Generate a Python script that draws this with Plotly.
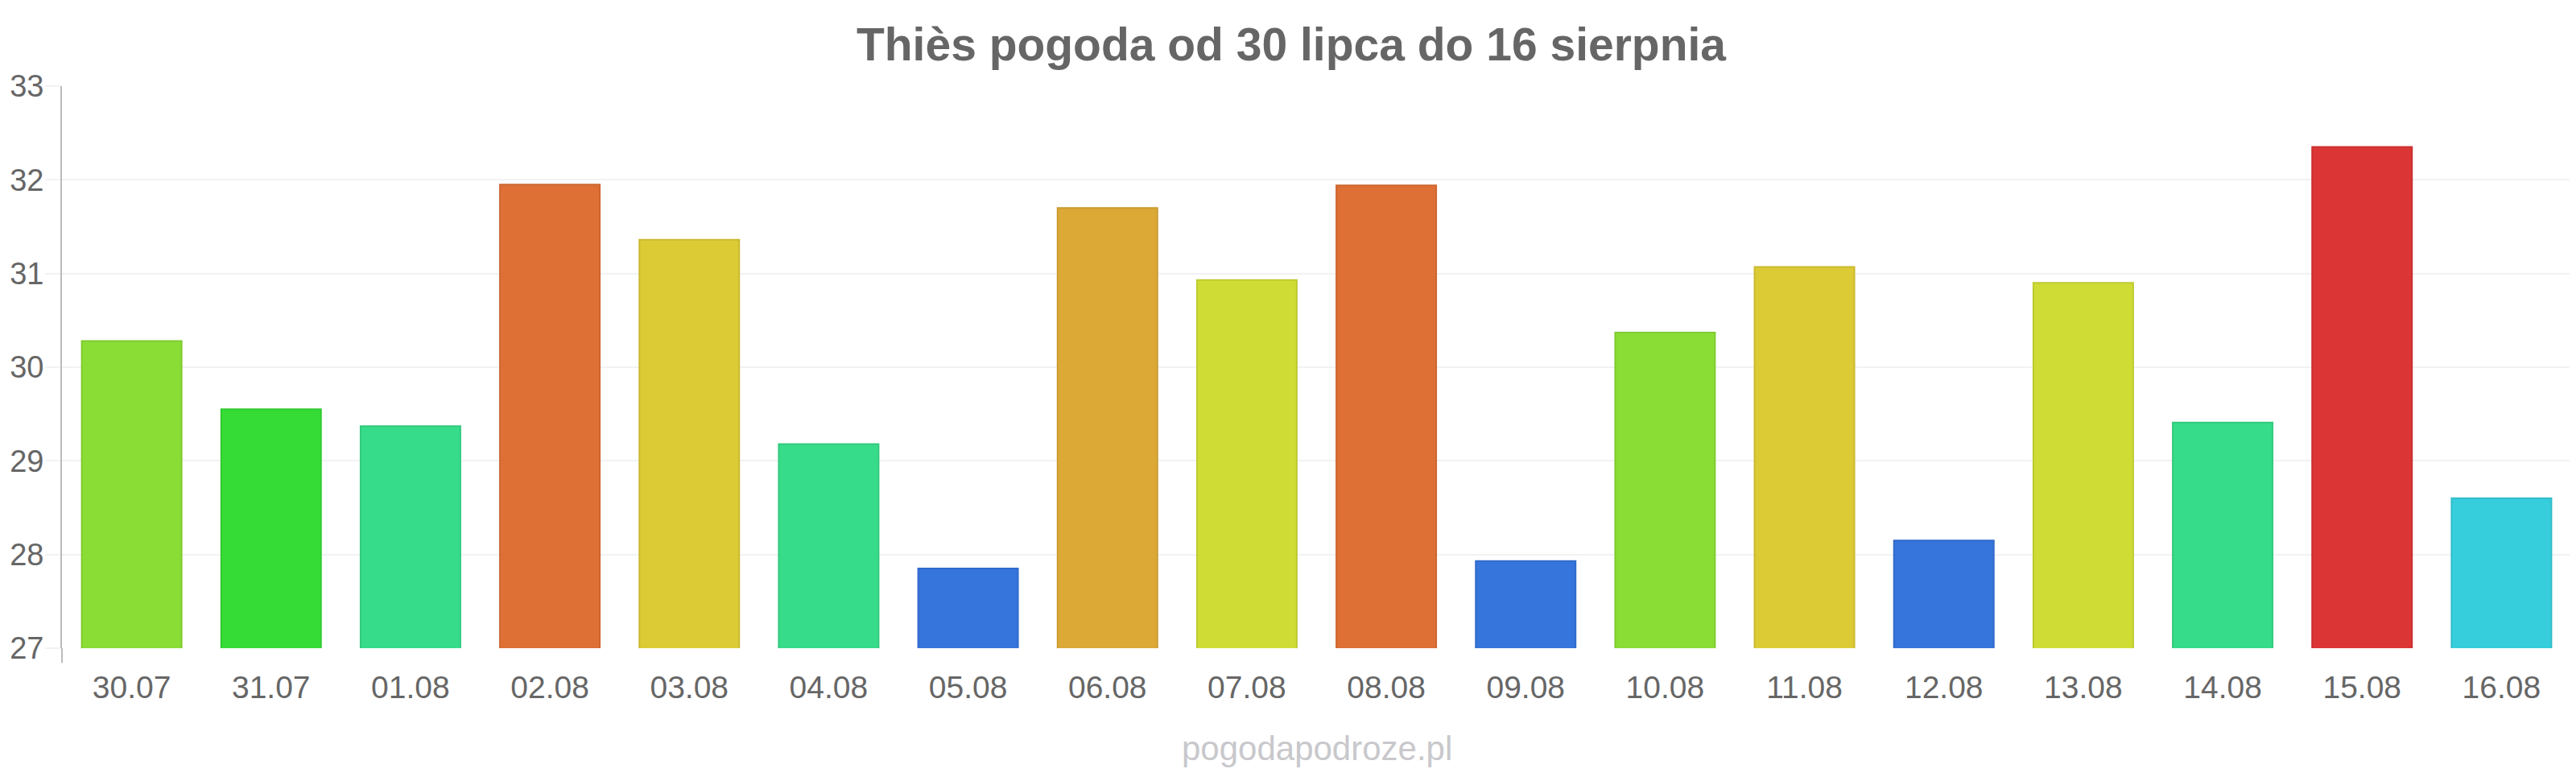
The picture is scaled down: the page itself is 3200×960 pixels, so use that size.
import plotly.graph_objects as go

# data
days = [
    "30.07", "31.07", "01.08", "02.08", "03.08", "04.08", "05.08", "06.08", "07.08",
    "08.08", "09.08", "10.08", "11.08", "12.08", "13.08", "14.08", "15.08", "16.08",
]
temperature = [
    30.28, 29.55, 29.37, 31.95, 31.36, 29.18, 27.85, 31.70, 30.93,
    31.94, 27.93, 30.37, 31.07, 28.15, 30.90, 29.41, 32.35, 28.60,
]
y_ticks = [27, 28, 29, 30, 31, 32, 33]

# one colour per bar, following the temperature scale of the site
bar_colors = [
    "#8ADD35", "#36DC36", "#37DC8A", "#DE7035", "#DCCB35", "#37DC8A",
    "#3675DC", "#DCA936", "#CFDC36", "#DE7035", "#3675DC", "#8ADD35",
    "#DCCB35", "#3675DC", "#CFDC36", "#37DC8A", "#DC3535", "#36CEDC",
]


def darker(hex_color, k=0.92):
    r, g, b = (int(hex_color[i:i + 2], 16) for i in (1, 3, 5))
    return "#%02x%02x%02x" % (int(r * k), int(g * k), int(b * k))


# the html body has an 8px margin, so the figure is a bit smaller than the window
W, H = 3192, 952

fig = go.Figure()
fig.add_trace(
    go.Bar(
        x=days,
        y=temperature,
        width=0.716,
        marker=dict(
            color=bar_colors,
            line=dict(color=[darker(c) for c in bar_colors], width=2),
        ),
        hovertemplate="%{x}: %{y:.1f}°C<extra></extra>",
    )
)

fig.update_layout(
    width=W,
    height=H,
    paper_bgcolor="white",
    plot_bgcolor="white",
    margin=dict(l=69, r=6, t=99, b=155),
    showlegend=False,
    font=dict(family="Liberation Sans, Arial, sans-serif", color="#666666"),
    title=dict(
        text="Thiès pogoda od 30 lipca do 16 sierpnia",
        x=0.5,
        xanchor="center",
        xref="container",
        y=1 - 47 / H,
        yref="container",
        yanchor="middle",
        font=dict(size=57, color="#666666", weight="bold"),
    ),
)

fig.update_xaxes(
    automargin=False,
    showgrid=False,
    showline=False,
    ticks="",
    tickfont=dict(size=39, color="#666666"),
    ticklabelstandoff=22,
)
fig.update_yaxes(
    automargin=False,
    range=[27, 33],
    tickvals=y_ticks,
    showgrid=True,
    gridcolor="#f2f2f2",
    gridwidth=2,
    zeroline=False,
    showline=True,
    linecolor="#bbbbbb",
    linewidth=2,
    ticks="outside",
    ticklen=19,
    tickwidth=2,
    tickcolor="#f2f2f2",
    tickfont=dict(size=38, color="#666666"),
    ticklabelstandoff=-6,
)

# small extension of the y axis line below the plot, as in the original
fig.add_shape(
    type="line",
    xref="paper", yref="paper",
    x0=0, x1=0, y0=0, y1=-0.026,
    line=dict(color="#bbbbbb", width=2),
)

fig.add_annotation(
    text="pogodapodroze.pl",
    xref="paper", yref="paper",
    x=0.5, y=-0.179,
    xanchor="center", yanchor="middle",
    showarrow=False,
    font=dict(size=42, color="#c8c8cc"),
)

fig.write_html("out.html")
